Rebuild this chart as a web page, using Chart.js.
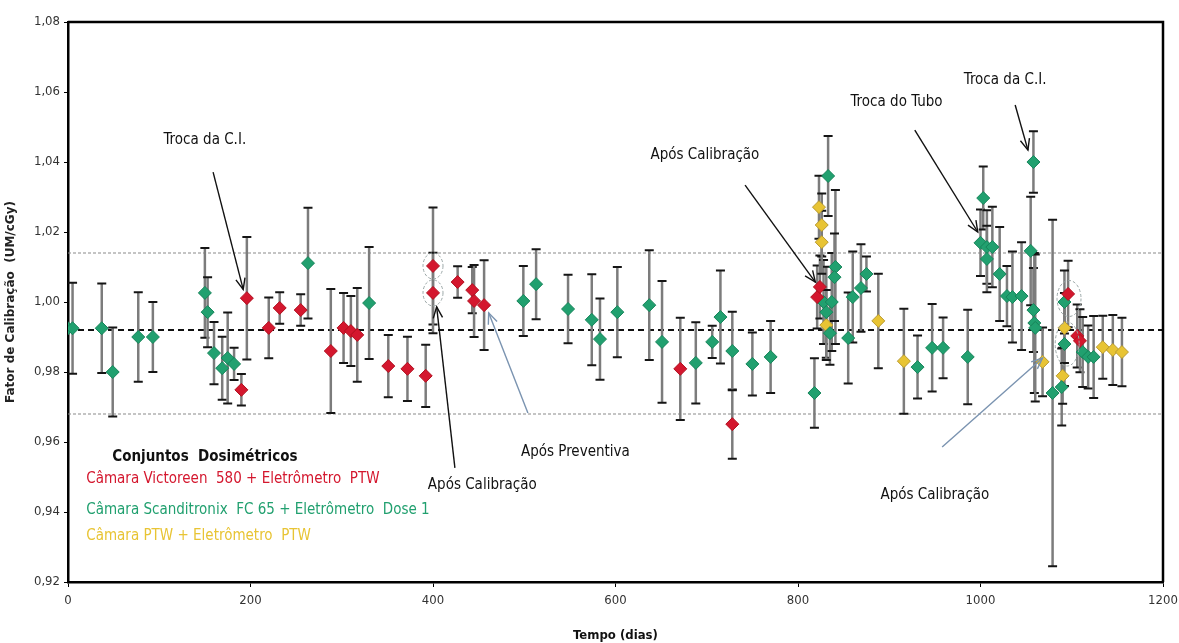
<!DOCTYPE html>
<html>
<head>
<meta charset="utf-8">
<script src="https://cdn.jsdelivr.net/npm/chart.js@4.4.1/dist/chart.umd.min.js"></script>
<style>
  body { margin: 0; background: #fff; }
  #wrap { width: 1179px; height: 643px; }
</style>
</head>
<body>
<div id="wrap"><canvas id="fatorChart"></canvas></div>
<script>
// Câmara Victoreen 580 + Eletrômetro PTW
const victoreenDias  = [190, 196, 220, 232, 255, 288, 302, 310, 317, 351, 372, 392, 400, 400, 427, 443, 445, 456, 671, 728, 821, 824, 1096, 1106, 1109];
const victoreenFator = [0.9749, 1.0011, 0.9926, 0.9983, 0.9977, 0.9860, 0.9926, 0.9917, 0.9906, 0.9817, 0.9809, 0.9789, 1.0103, 1.0026, 1.0057, 1.0034, 1.0003, 0.9991, 0.9809, 0.9651, 1.0014, 1.0043, 1.0023, 0.9903, 0.9889];
const victoreenErro  = [0.0045, 0.0175, 0.0087, 0.0045, 0.0045, 0.0177, 0.0100, 0.0100, 0.0134, 0.0089, 0.0092, 0.0089, 0.0167, 0.0115, 0.0045, 0.0066, 0.0103, 0.0128, 0.0146, 0.0099, 0.0090, 0.0090, 0.0095, 0.0090, 0.0090];

// Câmara Scanditronix FC 65 + Eletrômetro Dose 1
const scandDias  = [0, 5, 37, 49, 77, 93, 150, 153, 160, 169, 175, 182, 263, 330, 499, 513, 548, 574, 583, 602, 637, 651, 688, 706, 715, 728, 750, 770,
  818, 828, 831, 833, 835, 837, 841, 840, 855, 860, 869, 875, 931, 947, 959, 986, 1000, 1003, 1007, 1007, 1013, 1021, 1029, 1035, 1045,
  1055, 1058, 1058, 1059, 1060, 1079, 1089, 1092, 1092, 1112, 1118, 1124];
const scandFator = [0.9925, 0.9925, 0.9925, 0.9800, 0.9900, 0.9900, 1.0026, 0.9971, 0.9854, 0.9811, 0.9840, 0.9823, 1.0111, 0.9997, 1.0003, 1.0051, 0.9980, 0.9949, 0.9894, 0.9971, 0.9991, 0.9886, 0.9826, 0.9886, 0.9957, 0.9860, 0.9823, 0.9843,
  0.9740, 1.0000, 0.9971, 1.0360, 0.9911, 1.0000, 1.0100, 1.0071, 0.9897, 1.0014, 1.0040, 1.0080, 0.9814, 0.9869, 0.9869, 0.9843, 1.0169, 1.0297, 1.0157, 1.0123, 1.0157, 1.0080, 1.0017, 1.0014, 1.0017,
  1.0146, 1.0400, 0.9977, 0.9940, 0.9926, 0.9740, 0.9757, 0.9880, 1.0000, 0.9857, 0.9843, 0.9843];
const scandErro  = [0, 0.0130, 0.0128, 0.0127, 0.0128, 0.0100, 0.0128, 0.0100, 0.0089, 0.0090, 0.0130, 0.0046, 0.0158, 0.0160, 0.0100, 0.0100, 0.0098, 0.0130, 0.0116, 0.0129, 0.0157, 0.0174, 0.0116, 0.0046, 0.0133, 0.0112, 0.0090, 0.0103,
  0.0099, 0.0120, 0.0130, 0.0114, 0.0090, 0.0140, 0.0220, 0.0125, 0.0130, 0.0130, 0.0125, 0.0050, 0.0090, 0.0125, 0.0087, 0.0135, 0.0095, 0.0090, 0.0105, 0.0095, 0.0115, 0.0134, 0.0086, 0.0130, 0.0154,
  0.0155, 0.0088, 0.0120, 0.0200, 0.0210, 0.0495, 0.0110, 0.0120, 0.0090, 0.0100, 0.0090, 0.0117];

// Câmara PTW + Eletrômetro PTW
const ptwDias  = [823, 826, 826, 831, 888, 916, 1068, 1090, 1092, 1134, 1145, 1155];
const ptwFator = [1.0271, 1.0220, 1.0171, 0.9934, 0.9946, 0.9831, 0.9829, 0.9789, 0.9926, 0.9871, 0.9863, 0.9857];
const ptwErro  = [0.0090, 0.0090, 0.0090, 0.0100, 0.0135, 0.0150, 0.0098, 0.0080, 0.0100, 0.0090, 0.0100, 0.0098];

// reference lines: mean and tolerance limits
const media = 0.992;
const limites = [1.014, 0.968];

const xTicks = [0, 200, 400, 600, 800, 1000, 1200];
const yTicks = [0.92, 0.94, 0.96, 0.98, 1.00, 1.02, 1.04, 1.06, 1.08];

const FONT = '"Liberation Sans Narrow", "DejaVu Sans Condensed", "Liberation Sans", sans-serif';

function pts(xs, ys) { return xs.map((x, i) => ({ x: x, y: ys[i] })); }

// text notes with arrows, in data units
const notas = [
  { text: 'Troca da C.I.', at: [150, 1.0463], from: [159, 1.0371], to: [192, 1.0036], color: '#111' },
  { text: 'Após Calibração', at: [454, 0.9477], from: [424, 0.9526], to: [404, 0.9986], color: '#111' },
  { text: 'Após Preventiva', at: [556, 0.9571], from: [504, 0.9683], to: [461, 0.9969], color: '#7a93b0' },
  { text: 'Após Calibração', at: [698, 1.0420], from: [742, 1.0334], to: [819, 1.0057], color: '#111' },
  { text: 'Troca do Tubo', at: [908, 1.0571], from: [928, 1.0491], to: [997, 1.0200], color: '#111' },
  { text: 'Troca da C.I.', at: [1027, 1.0634], from: [1038, 1.0563], to: [1052, 1.0434], color: '#111' },
  { text: 'Após Calibração', at: [950, 0.9449], from: [958, 0.9586], to: [1068, 0.9840], color: '#7a93b0' }
];
const notaTextoCor = '#111';

// dashed circles around some points
const circulos = [
  { c: [400, 1.0103], rx: 10, ry: 13 },
  { c: [400, 1.0026], rx: 10, ry: 13 },
  { c: [1097, 1.0010], rx: 12, ry: 18 },
  { c: [1095, 0.9880], rx: 12, ry: 22 }
];

const legendaTitulo = 'Conjuntos  Dosimétricos';
const legendaItens = [
  { text: 'Câmara Victoreen  580 + Eletrômetro  PTW', color: '#d4172e' },
  { text: 'Câmara Scanditronix  FC 65 + Eletrômetro  Dose 1', color: '#21a06f' },
  { text: 'Câmara PTW + Eletrômetro  PTW', color: '#e8c434' }
];
const legendaY = [0.9494, 0.9406, 0.9331];

const errosPlugin = {
  id: 'erros',
  beforeDatasetsDraw(chart) {
    const { ctx, chartArea: a, scales: { x, y } } = chart;
    ctx.save();
    // tolerance lines
    ctx.strokeStyle = '#8a8a8a';
    ctx.lineWidth = 1.2;
    ctx.setLineDash([3, 2]);
    limites.forEach(v => {
      const py = y.getPixelForValue(v);
      ctx.beginPath(); ctx.moveTo(a.left, py); ctx.lineTo(a.right, py); ctx.stroke();
    });
    ctx.strokeStyle = '#111';
    ctx.lineWidth = 2;
    ctx.setLineDash([6, 4]);
    const pm = y.getPixelForValue(media);
    ctx.beginPath(); ctx.moveTo(a.left, pm); ctx.lineTo(a.right, pm); ctx.stroke();
    ctx.setLineDash([]);

    chart.data.datasets.forEach(ds => {
      if (!ds.erros) return;
      ds.data.forEach((p, j) => {
        const e = ds.erros[j];
        if (!e) return;
        const px = x.getPixelForValue(p.x);
        const top = y.getPixelForValue(p.y + e);
        const bot = y.getPixelForValue(p.y - e);
        ctx.strokeStyle = '#7c7c7c';
        ctx.lineWidth = 2.5;
        ctx.beginPath(); ctx.moveTo(px, top); ctx.lineTo(px, bot); ctx.stroke();
        ctx.strokeStyle = '#151515';
        ctx.lineWidth = 2;
        ctx.beginPath();
        ctx.moveTo(px - 4.5, top); ctx.lineTo(px + 4.5, top);
        ctx.moveTo(px - 4.5, bot); ctx.lineTo(px + 4.5, bot);
        ctx.stroke();
      });
    });
    ctx.restore();
  },
  afterDraw(chart) {
    const { ctx, chartArea: a, scales: { x, y } } = chart;
    const P = d => [x.getPixelForValue(d[0]), y.getPixelForValue(d[1])];
    ctx.save();
    // frame top and right
    ctx.strokeStyle = '#000';
    ctx.lineWidth = 2.5;
    ctx.beginPath();
    ctx.moveTo(a.left, a.top); ctx.lineTo(a.right, a.top); ctx.lineTo(a.right, a.bottom);
    ctx.stroke();

    // circles
    ctx.strokeStyle = '#9aa6a6';
    ctx.lineWidth = 1;
    ctx.setLineDash([3, 2]);
    circulos.forEach(c => {
      const [cx, cy] = P(c.c);
      ctx.beginPath(); ctx.ellipse(cx, cy, c.rx, c.ry, 0, 0, Math.PI * 2); ctx.stroke();
    });
    ctx.setLineDash([]);

    // notes
    ctx.font = '15px ' + FONT;
    ctx.textAlign = 'center';
    ctx.textBaseline = 'middle';
    notas.forEach(n => {
      ctx.fillStyle = notaTextoCor;
      const [tx, ty] = P(n.at);
      ctx.fillText(n.text, tx, ty);
      const [x1, y1] = P(n.from), [x2, y2] = P(n.to);
      ctx.strokeStyle = n.color;
      ctx.lineWidth = 1.4;
      ctx.beginPath(); ctx.moveTo(x1, y1); ctx.lineTo(x2, y2); ctx.stroke();
      const ang = Math.atan2(y2 - y1, x2 - x1);
      const L = 12, w = 0.4;
      ctx.beginPath();
      ctx.moveTo(x2 - L * Math.cos(ang - w), y2 - L * Math.sin(ang - w));
      ctx.lineTo(x2, y2);
      ctx.lineTo(x2 - L * Math.cos(ang + w), y2 - L * Math.sin(ang + w));
      ctx.stroke();
    });

    // legend block
    ctx.fillStyle = '#111';
    ctx.font = 'bold 15px ' + FONT;
    const [lx, ly] = P([150, 0.9557]);
    ctx.fillText(legendaTitulo, lx, ly);
    ctx.textAlign = 'left';
    ctx.font = '15px ' + FONT;
    const lx0 = x.getPixelForValue(20);
    legendaItens.forEach((it, i) => {
      ctx.fillStyle = it.color;
      ctx.fillText(it.text, lx0, y.getPixelForValue(legendaY[i]));
    });
    ctx.restore();
  }
};

const serie = (label, xs, ys, errs, color, border) => ({
  label: label,
  data: pts(xs, ys),
  erros: errs,
  pointStyle: 'rectRot',
  pointRadius: 6.5,
  pointHoverRadius: 6.5,
  backgroundColor: color,
  borderColor: border,
  borderWidth: 1,
  showLine: false
});

new Chart(document.getElementById('fatorChart'), {
  type: 'scatter',
  data: {
    datasets: [
      serie(legendaItens[0].text, victoreenDias, victoreenFator, victoreenErro, '#d4172e', '#b0101f'),
      serie(legendaItens[1].text, scandDias, scandFator, scandErro, '#21a06f', '#16845a'),
      serie(legendaItens[2].text, ptwDias, ptwFator, ptwErro, '#e8c434', '#b89a30')
    ]
  },
  options: {
    responsive: true,
    maintainAspectRatio: false,
    animation: false,
    layout: { padding: { top: 22, right: 16, left: 4, bottom: 0 } },
    plugins: { legend: { display: false }, tooltip: { enabled: false } },
    scales: {
      x: {
        type: 'linear',
        min: 0, max: 1200,
        afterBuildTicks: s => { s.ticks = xTicks.map(v => ({ value: v })); },
        afterFit: s => { s.height = 61; s.paddingRight = 0; s.paddingLeft = 0; },
        ticks: { color: '#333', font: { size: 13, family: FONT }, padding: 6, maxRotation: 0, callback: v => String(v) },
        grid: { drawOnChartArea: false, drawTicks: true, tickLength: 5, color: '#000' },
        border: { display: true, color: '#000', width: 2.5 },
        title: { display: true, text: 'Tempo (dias)', color: '#111', font: { size: 13, weight: 'bold', family: FONT }, padding: { top: 4, bottom: 0 } }
      },
      y: {
        type: 'linear',
        min: 0.92, max: 1.08,
        afterBuildTicks: s => { s.ticks = yTicks.map(v => ({ value: v })); },
        afterFit: s => { s.width = 64; },
        ticks: { color: '#333', font: { size: 13, family: FONT }, padding: 4, callback: v => v.toFixed(2).replace('.', ',') },
        grid: { drawOnChartArea: false, drawTicks: true, tickLength: 4, color: '#000' },
        border: { display: true, color: '#000', width: 2.5 },
        title: { display: true, text: 'Fator de Calibração  (UM/cGy)', color: '#222', font: { size: 12, weight: 'bold', family: '"DejaVu Sans", sans-serif' }, padding: { top: 0, bottom: 2 } }
      }
    }
  },
  plugins: [errosPlugin]
});
</script>
</body>
</html>
